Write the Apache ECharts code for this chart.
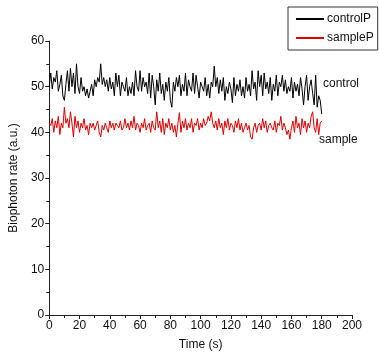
<!DOCTYPE html>
<html><head><meta charset="utf-8">
<script src="https://cdn.jsdelivr.net/npm/echarts@6/dist/echarts.min.js"></script>
<style>html,body{margin:0;padding:0;background:#fff}#c{width:379px;height:362px}</style>
</head><body><div id="c"></div>
<script>
var seriesNames = ['controlP', 'sampleP'];
var xTicks = [0, 20, 40, 60, 80, 100, 120, 140, 160, 180, 200];
var yTicks = [0, 10, 20, 30, 40, 50, 60];
var controlP = [
 50, 53, 49.5, 52, 51, 53.5, 49, 50.5, 52.5, 48,
 47, 50.5, 53.5, 49, 54, 50, 53, 48.5, 55, 50,
 48.5, 52, 49, 50, 48, 49.5, 47.5, 49, 50.5, 48,
 51.5, 50, 52, 51, 55, 50.5, 52, 50, 51.5, 49,
 52, 49.5, 51, 48, 53, 50, 52.5, 48, 51, 50,
 49, 52, 48, 50, 48.5, 51, 48, 53.5, 50, 49,
 53.5, 49, 52, 50, 51, 48.5, 53, 47.5, 52.5, 50,
 46, 51.5, 49, 53, 48.5, 50.5, 47, 51, 49, 52,
 47, 45.5, 51, 49, 52, 50, 52.5, 48, 50.5, 49,
 53, 48, 51.5, 50, 49, 53, 48.5, 52.5, 50, 47.5,
 51, 50, 49, 52, 48, 50.5, 47.5, 51, 50, 54.5,
 50, 52, 48.5, 51.5, 49, 52, 47, 50, 48.5, 51,
 49.5, 46.5, 52, 48, 50.5, 49, 51.5, 48, 50, 47.5,
 52, 49, 50.5, 48, 53.5, 49.5, 51, 47, 53.5, 50,
 52.5, 48, 53, 49.5, 51, 48.5, 52, 47, 50.5, 49,
 52.5, 48, 51, 50, 52.5, 49, 51.5, 48.5, 50, 49,
 52, 47.5, 51, 49, 50.5, 48, 52, 49.5, 46, 50,
 52.5, 47, 50, 51.5, 48.5, 46, 52.5, 45.5, 48, 47,
 44
];
var sampleP = [
 42, 41.5, 43, 40, 42.5, 41, 43.5, 39.5, 42, 41,
 45.5, 42, 43, 41, 44.5, 42, 39, 43.5, 41, 42.5,
 40, 42, 41, 43, 40.5, 41.5, 39.5, 42, 41, 42,
 40.5, 41.5, 42.5, 40, 39, 41.5, 40.5, 42, 41, 40,
 42.5, 41, 42, 40.5, 42, 41.5, 41, 42.5, 40.5, 41,
 43, 41, 42, 40.5, 42.5, 41, 43.5, 40.5, 42, 41.5,
 40, 42, 41, 43, 40.5, 41.5, 42, 40, 42.5, 41,
 40.5, 44.5, 41, 42.5, 40, 43, 39.5, 42, 41, 43,
 40.5, 42, 40, 41.5, 39, 42, 44.3, 40, 42.5, 41,
 43, 40.5, 42, 41, 43, 40, 42, 41.5, 43, 40.5,
 42, 41, 43, 41.5, 42, 43.5, 42.5, 44.5, 42, 41,
 42.5, 40.5, 43, 41, 42, 39.5, 42.5, 41, 43, 40.5,
 42, 41.5, 40, 42.5, 41, 43, 40.5, 42, 40, 41,
 42, 40.5, 41.5, 39, 38.5, 41, 42, 40, 41.5, 42,
 40.5, 43, 41, 42.5, 40, 41.5, 42, 41, 40.5, 42.5,
 40, 42, 41.5, 43.5, 40.5, 42, 41, 39.5, 40.5, 38.5,
 41, 42.5, 40, 43.5, 41, 42, 39.5, 43, 41, 42.5,
 40, 42, 41, 43.5, 44.5, 41, 40, 43, 39.5, 42,
 42.5
];
var curveLabels = ['control', 'sample'];

function pairs(arr){ return arr.map(function(v,i){ return [i, v]; }); }

var chart = echarts.init(document.getElementById('c'), null, {renderer:'canvas'});
var font = 'Liberation Sans, Arial, sans-serif';
var axisCol = '#222';
chart.setOption({
  animation: false,
  backgroundColor: '#fff',
  grid: {left: 45, right: 27, top: 41, bottom: 47, containLabel: false},
  legend: {
    data: seriesNames.map(function(n){ return {name:n, icon:'rect'}; }),
    orient: 'vertical', left: 288, top: 7, width: 90,
    itemWidth: 28, itemHeight: 2, itemGap: 7,
    padding: [6, 4, 6, 8],
    borderColor: '#333', borderWidth: 1,
    textStyle: {fontFamily: font, fontSize: 12, color: '#111', padding:[0,0,0,-2]}
  },
  xAxis: {
    type: 'value', min: xTicks[0], max: xTicks[xTicks.length-1], interval: 20,
    name: 'Time (s)', nameLocation: 'middle', nameGap: 24,
    nameTextStyle: {fontFamily: font, fontSize: 12, color: '#111'},
    axisLine: {show: true, onZero:false, lineStyle: {color: axisCol, width: 1}},
    axisTick: {show: true, inside: false, length: 4, lineStyle:{color: axisCol}},
    minorTick: {show: true, splitNumber: 2, length: 3, lineStyle:{color: axisCol}},
    axisLabel: {fontFamily: font, fontSize: 12, color: '#111', margin: 5},
    splitLine: {show: false}
  },
  yAxis: {
    type: 'value', min: yTicks[0], max: yTicks[yTicks.length-1], interval: 10,
    name: 'Biophoton rate (a.u.)', nameLocation: 'middle', nameGap: 28, nameRotate: 90,
    nameTextStyle: {fontFamily: font, fontSize: 12, color: '#111'},
    axisLine: {show: true, onZero:false, lineStyle: {color: axisCol, width: 1}},
    axisTick: {show: true, inside: false, length: 4, lineStyle:{color: axisCol}},
    minorTick: {show: true, splitNumber: 2, length: 3, lineStyle:{color: axisCol}},
    axisLabel: {fontFamily: font, fontSize: 12, color: '#111', margin: 5},
    splitLine: {show: false}
  },
  series: [
    {name: seriesNames[0], type: 'line', data: pairs(controlP), symbol: 'none',
     lineStyle: {color: '#000', width: 1}, itemStyle: {color: '#000'}},
    {name: seriesNames[1], type: 'line', data: pairs(sampleP), symbol: 'none',
     lineStyle: {color: '#e00000', width: 1}, itemStyle: {color: '#e00000'}}
  ],
  graphic: [
    {type: 'text', left: 323, top: 78, style: {text: curveLabels[0], font: '12px ' + font, fill: '#111'}},
    {type: 'text', left: 319, top: 134, style: {text: curveLabels[1], font: '12px ' + font, fill: '#111'}}
  ]
});
</script></body></html>
